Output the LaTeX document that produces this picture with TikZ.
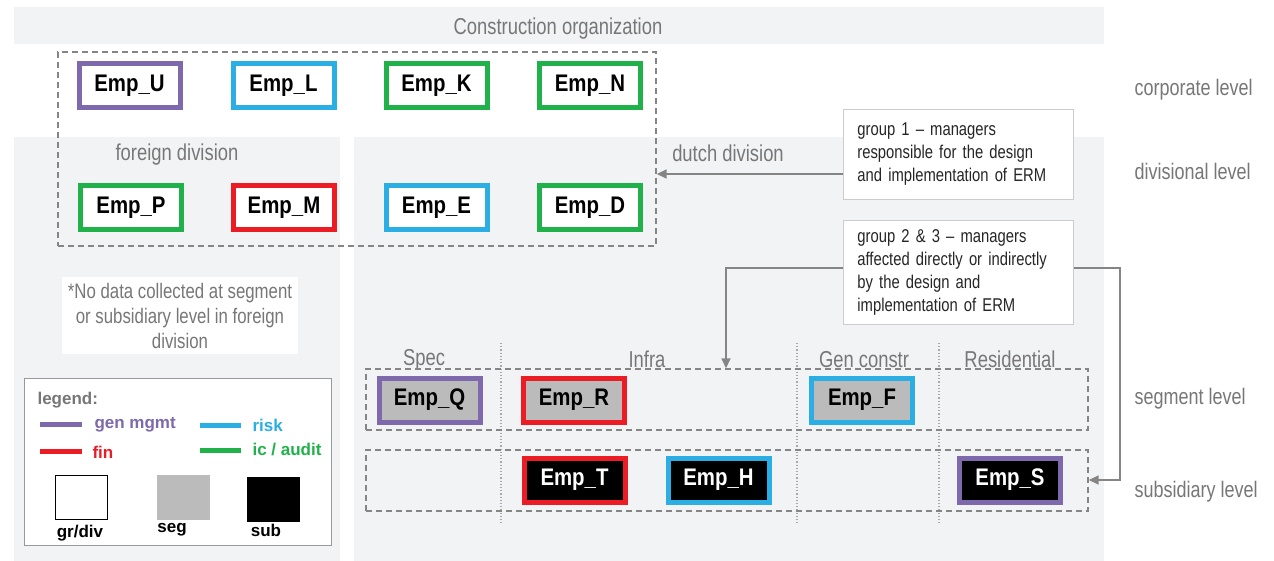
\documentclass[tikz,border=0pt]{standalone}
\usepackage{fontspec}
\setmainfont{Liberation Sans}
\newfontfamily\cond[FakeStretch=0.8]{Liberation Sans}
\newfontfamily\condb[FakeStretch=0.85]{Liberation Sans}
\usetikzlibrary{arrows.meta}
\definecolor{panel}{HTML}{F2F3F5}
\definecolor{txtgray}{HTML}{777777}
\definecolor{linegray}{HTML}{858585}
\definecolor{cpurple}{HTML}{7E69AD}
\definecolor{cblue}{HTML}{2AAEE3}
\definecolor{cgreen}{HTML}{21B14B}
\definecolor{cred}{HTML}{EC1C24}
\definecolor{segfill}{HTML}{BBBBBB}
\tikzset{
  emp/.style={draw=#1, line width=5pt, minimum width=101pt, minimum height=44pt,
    inner sep=0pt, font=\condb\bfseries\fontsize{24}{24}\selectfont},
  divemp/.style={emp=#1, fill=white, text=black},
  segemp/.style={emp=#1, fill=segfill, text=black},
  subemp/.style={emp=#1, fill=black, text=white},
  dashbox/.style={draw=linegray, line width=1.4pt, dash pattern=on 6pt off 4pt, inner sep=0pt},
  lvl/.style={anchor=west, text=txtgray, yshift=-2pt, font=\cond\fontsize{22.5}{22.5}\selectfont},
  title/.style={text=txtgray, yshift=-2.5pt, font=\cond\fontsize{23}{23}\selectfont},
  note/.style={draw=black!20, fill=white, line width=0.8pt, align=left, text width=202pt,
    inner xsep=14pt, inner ysep=9pt, font=\cond\fontsize{18.5}{23}\selectfont, text=black!85},
  arr/.style={draw=linegray, line width=1.6pt, -{Triangle[length=10pt,width=9pt]}},
  key/.style={line width=5pt},
  keytxt/.style={anchor=west, font=\bfseries\fontsize{17}{17}\selectfont},
  sqlabel/.style={font=\bfseries\fontsize{17}{17}\selectfont},
  sep/.style={draw=black!35, line width=1.2pt, dotted},
}
\begin{document}
\begin{tikzpicture}[x=1pt, y=-1pt]
\useasboundingbox (0,0) rectangle (1274,561);
\fill[white] (0,0) rectangle (1274,561);

% background panels
\fill[panel] (14,7) rectangle (1104,44);
\fill[panel] (14,137) rectangle (340,561);
\fill[panel] (354,137) rectangle (1104,561);
\node[title] (org) at (558,26) {Construction organization};
\node[title] (fdiv) at (177,152) {foreign division};
\node[title] (ddiv) at (728,151) {dutch division};

% column separators of the dutch division
\draw[sep] (501,343) -- (501,525);
\draw[sep] (797,343) -- (797,525);
\draw[sep] (939,343) -- (939,525);
\node[title] (cspec) at (424,357) {Spec};
\node[title] (cinfra) at (647,357) {Infra};
\node[title] (cgen) at (864,357) {Gen constr};
\node[title] (cres) at (1010,357) {Residential};

% dashed groupings
\node[dashbox, minimum width=598pt, minimum height=194pt] (grp) at (357,149) {};
\node[dashbox, minimum width=722pt, minimum height=61pt] (segbox) at (727,399.5) {};
\node[dashbox, minimum width=722pt, minimum height=61pt] (subbox) at (727,480.5) {};

% corporate and divisional employees
\node[divemp=cpurple] (U) at (129.5,86) {Emp\_U};
\node[divemp=cblue] (L) at (283.5,86) {Emp\_L};
\node[divemp=cgreen] (K) at (436.5,86) {Emp\_K};
\node[divemp=cgreen] (N) at (590,86) {Emp\_N};
\node[divemp=cgreen] (P) at (131,207.5) {Emp\_P};
\node[divemp=cred] (M) at (284,207.5) {Emp\_M};
\node[divemp=cblue] (E) at (436.5,207.5) {Emp\_E};
\node[divemp=cgreen] (D) at (590,207.5) {Emp\_D};

% segment employees
\node[segemp=cpurple] (Q) at (429.5,400) {Emp\_Q};
\node[segemp=cred] (R) at (574,400) {Emp\_R};
\node[segemp=cblue] (F) at (862,400) {Emp\_F};

% subsidiary employees
\node[subemp=cred] (T) at (574.5,480) {Emp\_T};
\node[subemp=cblue] (H) at (718.5,480) {Emp\_H};
\node[subemp=cpurple] (S) at (1010,480) {Emp\_S};

% manager groups
\node[note, anchor=north west, minimum height=90pt] (g1) at (843,109) {group 1 – managers\\responsible for the design\\and implementation of ERM};
\node[note, anchor=north west, minimum height=97pt] (g2) at (843,220) {group 2 \& 3 – managers\\affected directly or indirectly\\by the design and\\implementation of ERM};

\coordinate (y174) at (0,174);
\coordinate (y268) at (0,268);
\coordinate (y480) at (0,480);
\coordinate (xl) at (726,0);
\coordinate (xr) at (1120,0);
\draw[arr] (g1.west |- y174) -- (grp.east |- y174);
\draw[arr] (g2.west |- y268) -- (xl |- y268) -- (segbox.north -| xl);
\draw[arr] (g2.east |- y268) -- (xr |- y268) -- (xr |- y480) -- (subbox.east |- y480);

% level labels
\node[lvl] (lcorp) at (1131,88) {corporate level};
\node[lvl] (ldiv) at (1131,169) {divisional level};
\node[lvl] (lseg) at (1131,397) {segment level};
\node[lvl] (lsub) at (1131,490) {subsidiary level};

% remark on the foreign division
\node[fill=white, minimum width=236pt, minimum height=77pt, align=center, text=txtgray,
  font=\cond\fontsize{21}{25}\selectfont] (remark) at (180,315.5)
  {*No data collected at segment\\or subsidiary level in foreign\\division};

% legend
\node[draw=black!40, fill=white, line width=0.8pt, minimum width=307pt, minimum height=167pt] (legend) at (177.5,461.5) {};
\node[keytxt, text=txtgray] (lt) at (34,400) {legend:};
\draw[key, cpurple] (40,424) -- (82,424);
\node[keytxt, text=cpurple] (kgm) at (91,425) {gen mgmt};
\draw[key, cred] (40,451) -- (82,451);
\node[keytxt, text=cred] (kfin) at (89,452) {fin};
\draw[key, cblue] (200,425) -- (241,425);
\node[keytxt, text=cblue] (krisk) at (249,425) {risk};
\draw[key, cgreen] (200,450) -- (241,450);
\node[keytxt, text=cgreen] (kic) at (249,450) {ic / audit};
\node[draw=black, fill=white, line width=0.8pt, minimum width=52pt, minimum height=44pt] (sgr) at (81.5,497.5) {};
\node[fill=segfill, minimum width=53pt, minimum height=45pt] (sseg) at (183.5,497.5) {};
\node[fill=black, minimum width=53pt, minimum height=45pt] (ssub) at (273.5,499.5) {};
\node[sqlabel] (lgr) at (80,533) {gr/div};
\node[sqlabel] (lseg2) at (172,530) {seg};
\node[sqlabel] (lsub2) at (266,530) {sub};
\end{tikzpicture}
\end{document}
